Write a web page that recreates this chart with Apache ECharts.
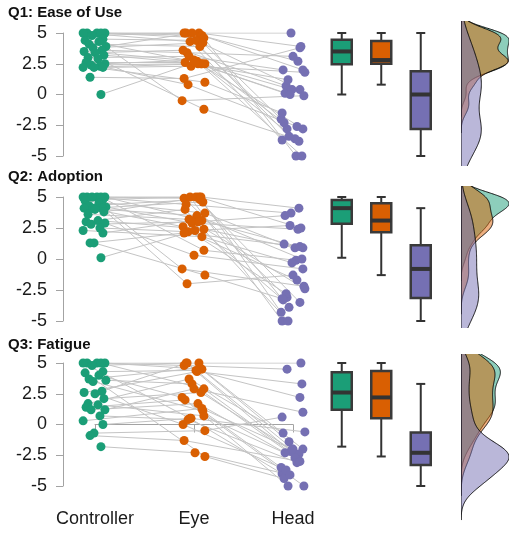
<!DOCTYPE html>
<html><head><meta charset="utf-8">
<script src="https://cdn.jsdelivr.net/npm/echarts@6/dist/echarts.min.js"></script>
<style>html,body{margin:0;padding:0;background:#fff}#c{width:509px;height:533px}</style>
</head><body><div id="c"></div>
<script>
// ---------- data ----------
const conditions = ['Controller', 'Eye', 'Head'];
const questions = ['Q1: Ease of Use', 'Q2: Adoption', 'Q3: Fatigue'];
const yTicks = [-5, -2.5, 0, 2.5, 5];

// one entry per participant (same index = same participant)
const q1Controller = [5,5,5,5,5,4.8,4.5,4.4,4.3,4.1,3.9,3.8,3.6,3.5,3.4,3.2,3.0,2.9,2.6,2.5,2.4,2.3,2.2,2.2,2.2,1.4,0];
const q1Eye        = [5,5,4.8,4.3,4.6,5,4.4,2.5,-0.5,3.9,5,4.2,3.4,2.7,3.6,2.5,3.1,-1.2,2.6,2.8,2.5,0.8,2.5,2.3,1.0,1.3,2.6];
const q1Head       = [3.9,-2.8,2.0,-3.7,-5,5,0.4,-2.3,-0.1,-3.4,2.7,-2.0,3.1,-5,0.7,-3.8,2.0,-3.6,1.2,-2.8,0.1,-2.6,0.4,1.8,-1.5,3.8,0];

const q2Controller = [5,5,5,5,5,5,4.8,4.7,4.5,4.3,4.2,4.1,4.1,4.1,4.0,3.8,3.6,3.1,3.0,2.9,2.8,2.5,2.3,2.1,1.3,1.3,0.1];
const q2Eye        = [5,4.9,3.1,5,0.7,4.4,5,3.7,-0.8,4.8,2.9,4.6,-2.0,3.5,2.6,5,3.2,2.4,4.0,0.3,3.0,2.2,1.8,3.1,-1.3,2.1,2.3];
const q2Head       = [2.5,-3.1,0.9,-5,-0.1,3.7,-3.5,1.2,-2.2,-3.9,2.4,-4.3,-1.3,0,-2.8,4.1,-3.3,0.9,-5,-0.8,3.5,-1.7,-0.3,-2.4,-3.2,1.0,2.7];

const q3Controller = [5,5,5,5,5,4.8,4.3,4.2,4.0,3.7,3.6,3.5,2.7,2.6,2.5,2.1,1.7,1.6,1.4,1.2,1.2,0.7,0.3,0.0,-0.7,-0.9,-1.8];
const q3Eye        = [5,4.8,4.5,0.5,2.9,5,4.4,-2.6,2.2,4.6,3.3,1.1,5,4.3,0.0,2.6,3.7,0.7,2.0,2.9,1.7,0.4,1.3,0.5,-0.5,-1.3,-2.3];
const q3Head       = [5,4.5,-2.0,-4.0,-2.6,-2.2,2.2,-4.4,-5,-1.4,-2.8,-3.5,-2.0,3.3,-3.7,-2.4,-0.7,-2.7,-5,1.0,-2.3,-3.1,-2.0,-0.6,0.6,-3.0,-4.1];

// horizontal jitter of each participant's point (in category units)
const jitterController = [-0.08,0.02,0.1,-0.12,0.06,-0.03,0.08,-0.1,0.04,-0.06,0.11,-0.02,0.07,-0.11,0.0,0.09,-0.07,0.03,-0.09,0.1,-0.04,0.05,-0.12,0.08,-0.01,-0.05,0.06];
const jitterEye        = [0.05,-0.1,0.08,-0.04,0.1,-0.08,0.02,0.11,-0.12,0.06,-0.02,0.09,-0.07,0.03,-0.11,0.07,-0.05,0.1,-0.09,0.0,0.04,-0.06,0.08,-0.03,0.11,-0.1,0.01];
const jitterHead       = [0.08,-0.06,0.1,-0.11,0.03,-0.02,0.07,-0.09,0.11,-0.04,0.05,-0.12,0.0,0.09,-0.07,0.06,-0.1,0.02,-0.05,0.1,-0.08,0.04,-0.01,0.12,-0.11,0.07,-0.03];

// ---------- styling / layout ----------
const colors = ['#1b9e77', '#d95f02', '#7570b3'];
const fills  = ['rgba(27,158,119,0.5)', 'rgba(217,95,2,0.5)', 'rgba(117,112,179,0.5)'];
const FONT = 'Liberation Sans, Arial, Helvetica, sans-serif';
const panels = [
  {top: 33,  bottom: 156, densTop: 21,  densBottom: 166, titleTop: 5},
  {top: 197, bottom: 321, densTop: 186, densBottom: 328, titleTop: 169},
  {top: 363, bottom: 486, densTop: 354, densBottom: 522, titleTop: 337}
];
const CAT_PX = 99, CTRL_X = 95, AXIS_X = 63, DOT_RIGHT = 326;
const dotMin = 1 - (CTRL_X - AXIS_X) / CAT_PX;
const dotMax = 1 + (DOT_RIGHT - CTRL_X) / CAT_PX;
const BOX_LEFT = 322, BOX_STEP = 39.5;
const DENS_LEFT = 461, DENS_RIGHT = 509;

const qData = [
  [q1Controller, q1Eye, q1Head],
  [q2Controller, q2Eye, q2Head],
  [q3Controller, q3Eye, q3Head]
];
const jitters = [jitterController, jitterEye, jitterHead];

// ---------- statistics ----------
function quantile(arr, p) {
  const s = arr.slice().sort((a, b) => a - b);
  const h = (s.length - 1) * p, lo = Math.floor(h);
  return lo + 1 < s.length ? s[lo] + (h - lo) * (s[lo + 1] - s[lo]) : s[lo];
}
function boxStats(arr) {
  const q1 = quantile(arr, 0.25), med = quantile(arr, 0.5), q3 = quantile(arr, 0.75);
  const iqr = q3 - q1;
  const hi = Math.max(...arr.filter(v => v <= q3 + 1.5 * iqr));
  const lo = Math.min(...arr.filter(v => v >= q1 - 1.5 * iqr));
  return [lo, q1, med, q3, hi];
}
function sd(arr) {
  const m = arr.reduce((a, b) => a + b, 0) / arr.length;
  return Math.sqrt(arr.reduce((a, b) => a + (b - m) * (b - m), 0) / (arr.length - 1));
}
function bwNrd0(arr) {
  const s = sd(arr), iqr = quantile(arr, 0.75) - quantile(arr, 0.25);
  let lo = Math.min(s, iqr / 1.34);
  if (!(lo > 0)) lo = s || 1;
  return 0.9 * lo * Math.pow(arr.length, -0.2);
}
function kde(arr) {
  const bw = bwNrd0(arr);
  const from = Math.min(...arr) - 3 * bw, to = Math.max(...arr) + 3 * bw;
  const m = 256, pts = [];
  for (let i = 0; i < m; i++) {
    const y = from + (to - from) * i / (m - 1);
    let s = 0;
    for (const v of arr) { const z = (y - v) / bw; s += Math.exp(-0.5 * z * z); }
    pts.push([s / (arr.length * bw * Math.sqrt(2 * Math.PI)), y]);
  }
  return pts;
}

// ---------- option ----------
const grid = [], xAxis = [], yAxis = [], series = [], title = [];
const baseY = {type: 'value', min: -5, max: 5, show: false, splitLine: {show: false}};

panels.forEach((P, pi) => {
  const data = qData[pi];
  const h = P.bottom - P.top;
  const pxPerUnit = h / 10;
  title.push({text: questions[pi], left: 8, top: P.titleTop, padding: 0,
    textStyle: {fontSize: 15, fontWeight: 'bold', color: '#111', fontFamily: FONT}});

  // dot plot grid
  const gDot = grid.length;
  grid.push({left: AXIS_X, top: P.top, width: DOT_RIGHT - AXIS_X, height: h});
  xAxis.push({gridIndex: gDot, type: 'value', min: dotMin, max: dotMax, show: false});
  yAxis.push({gridIndex: gDot, type: 'value', min: -5, max: 5, interval: 2.5,
    axisLine: {show: true, lineStyle: {color: '#a3a3a3', width: 1}},
    axisTick: {show: true, length: 7, lineStyle: {color: '#a3a3a3', width: 1}},
    axisLabel: {fontSize: 18, color: '#1a1a1a', margin: 16, fontFamily: FONT,
      formatter: v => yTicks.includes(v) ? String(v) : ''},
    splitLine: {show: false}});
  const n = data[0].length;
  const linesData = [];
  for (let i = 0; i < n; i++) {
    linesData.push({coords: [0, 1, 2].map(g => [g + 1 + jitters[g][i], data[g][i]])});
  }
  series.push({type: 'lines', coordinateSystem: 'cartesian2d', polyline: true,
    xAxisIndex: gDot, yAxisIndex: gDot, data: linesData, silent: true, z: 1,
    lineStyle: {color: '#c4c4c4', width: 1, opacity: 1}});
  [0, 1, 2].forEach(g => {
    series.push({type: 'scatter', xAxisIndex: gDot, yAxisIndex: gDot, symbolSize: 9, z: 3,
      clip: false, silent: true,
      itemStyle: {color: colors[g], opacity: 1},
      data: data[g].map((v, i) => [g + 1 + jitters[g][i], v])});
  });

  // boxplot grid
  const gBox = grid.length;
  grid.push({left: BOX_LEFT, top: P.top, width: BOX_STEP * 3, height: h});
  xAxis.push({gridIndex: gBox, type: 'value', min: 0.5, max: 3.5, show: false});
  yAxis.push(Object.assign({gridIndex: gBox}, baseY));
  series.push({type: 'custom', xAxisIndex: gBox, yAxisIndex: gBox, silent: true,
    data: [0, 1, 2].map(g => [g + 1].concat(boxStats(data[g]))),
    renderItem: (params, api) => {
      const x = api.value(0), g = params.dataIndex;
      const pLo = api.coord([x, api.value(1)]), pQ1 = api.coord([x, api.value(2)]),
            pMed = api.coord([x, api.value(3)]), pQ3 = api.coord([x, api.value(4)]),
            pHi = api.coord([x, api.value(5)]);
      const cx = pLo[0], hw = 10, cw = 4.5, st = '#333333';
      return {type: 'group', children: [
        {type: 'line', shape: {x1: cx, y1: pHi[1], x2: cx, y2: pQ3[1]}, style: {stroke: st, lineWidth: 2}},
        {type: 'line', shape: {x1: cx, y1: pQ1[1], x2: cx, y2: pLo[1]}, style: {stroke: st, lineWidth: 2}},
        {type: 'line', shape: {x1: cx - cw, y1: pHi[1], x2: cx + cw, y2: pHi[1]}, style: {stroke: st, lineWidth: 2}},
        {type: 'line', shape: {x1: cx - cw, y1: pLo[1], x2: cx + cw, y2: pLo[1]}, style: {stroke: st, lineWidth: 2}},
        {type: 'rect', shape: {x: cx - hw, y: pQ3[1], width: 2 * hw, height: pQ1[1] - pQ3[1]},
          style: {fill: colors[g], stroke: '#3a3a3a', lineWidth: 2.5}},
        {type: 'line', shape: {x1: cx - hw, y1: pMed[1], x2: cx + hw, y2: pMed[1]}, style: {stroke: st, lineWidth: 4}}
      ]};
    }});

  // density grid
  const gDen = grid.length;
  const curves = [0, 1, 2].map(g => kde(data[g]));
  const maxD = Math.max(...curves.map(c => Math.max(...c.map(p => p[0]))));
  grid.push({left: DENS_LEFT, top: P.densTop, width: DENS_RIGHT - DENS_LEFT, height: P.densBottom - P.densTop});
  xAxis.push({gridIndex: gDen, type: 'value', min: 0, max: maxD * 1.0, show: false});
  yAxis.push({gridIndex: gDen, type: 'value', show: false,
    min: -5 - (P.densBottom - P.bottom) / pxPerUnit,
    max: 5 + (P.top - P.densTop) / pxPerUnit});
  series.push({type: 'custom', xAxisIndex: gDen, yAxisIndex: gDen, silent: true, clip: true,
    data: [[0], [1], [2]],
    renderItem: (params, api) => {
      const g = params.dataIndex, c = curves[g];
      const pts = [api.coord([0, c[0][1]])].concat(c.map(p => api.coord(p)), [api.coord([0, c[c.length - 1][1]])]);
      return {type: 'polygon', shape: {points: pts},
        style: {fill: fills[g], stroke: '#000', lineWidth: 0.9}};
    }});

  // bottom category axis (last panel)
  if (pi === panels.length - 1) {
    const gX = grid.length;
    grid.push({left: CTRL_X, top: P.top, width: 2 * CAT_PX, height: h});
    xAxis.push({gridIndex: gX, type: 'value', min: 1, max: 3, interval: 1, position: 'bottom', offset: 8,
      axisLine: {show: true, lineStyle: {color: '#a3a3a3', width: 1}},
      axisTick: {show: true, length: 8, lineStyle: {color: '#a3a3a3', width: 1}},
      axisLabel: {fontSize: 18, color: '#1a1a1a', margin: 16, fontFamily: FONT,
        formatter: v => conditions[Math.round(v) - 1] || ''},
      splitLine: {show: false}});
    yAxis.push(Object.assign({gridIndex: gX}, baseY));
  }
});

const chart = echarts.init(document.getElementById('c'), null, {renderer: 'canvas'});
chart.setOption({animation: false, backgroundColor: '#fff', title, grid, xAxis, yAxis, series});
</script></body></html>
